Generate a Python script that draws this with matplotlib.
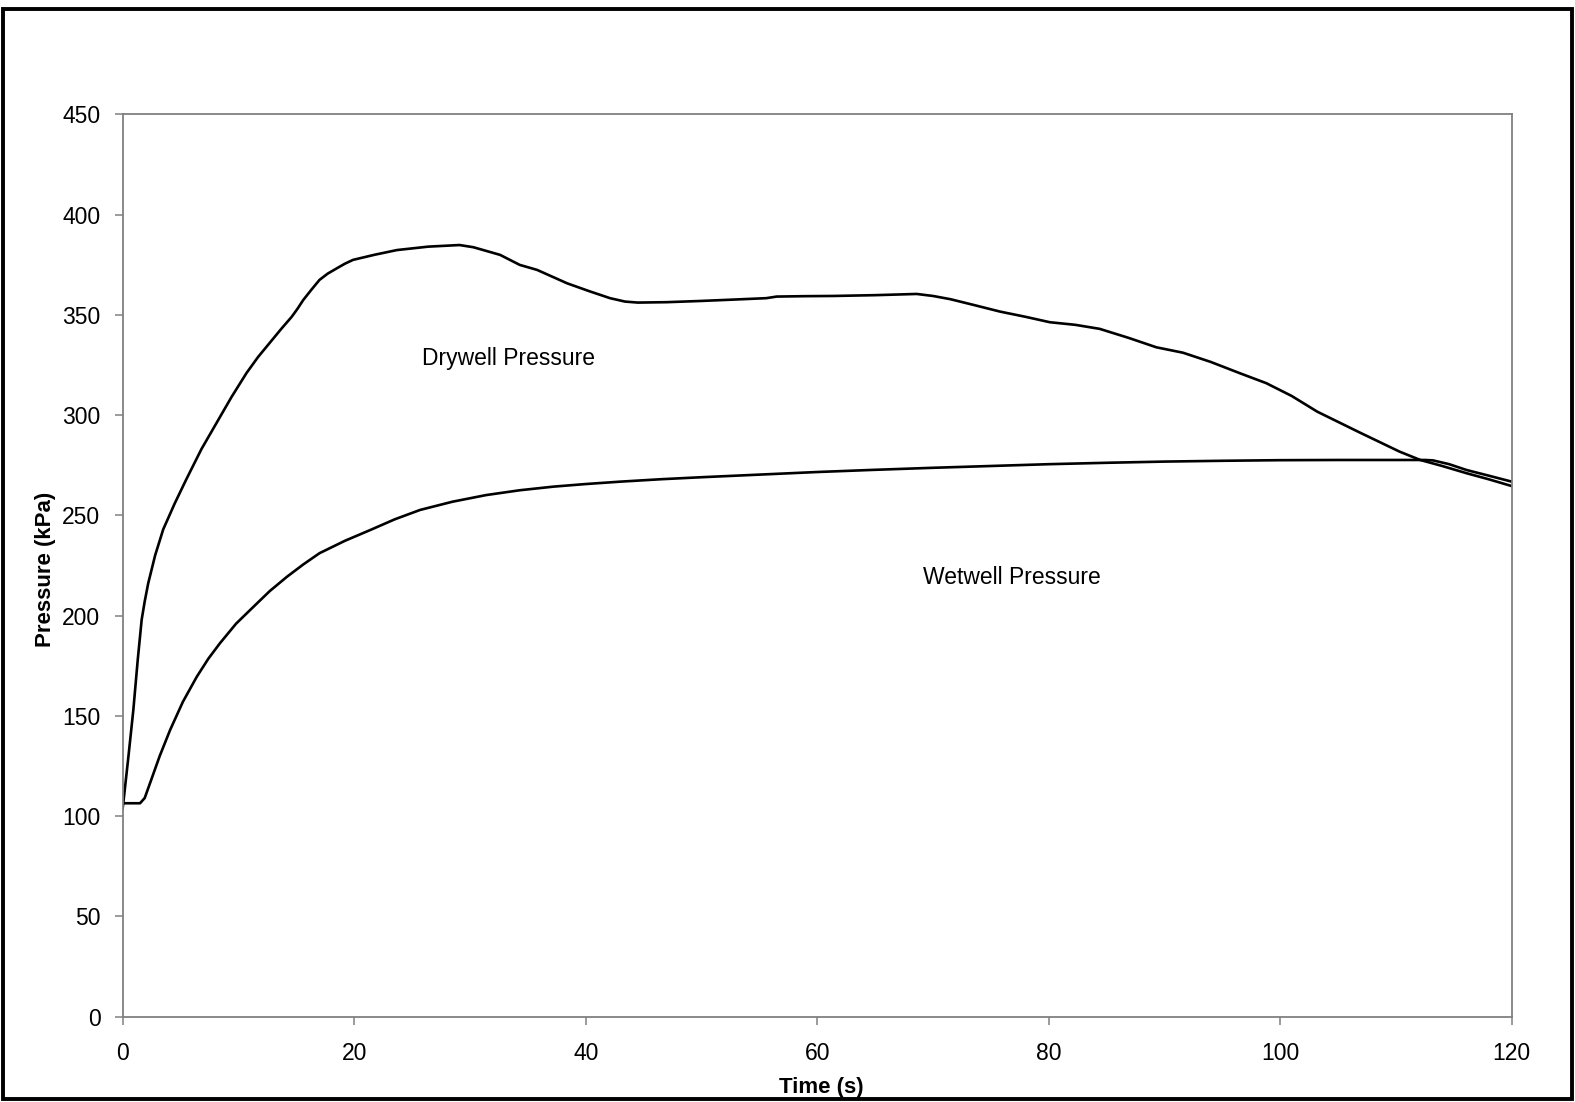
import matplotlib.pyplot as plt
from matplotlib.patches import Rectangle

plt.rcParams["font.family"] = ["Liberation Sans", "DejaVu Sans"]

# drywell pressure (time s, kPa)
dry_t = [0, 0.05, 0.5, 0.92, 1.3, 1.64, 1.9, 2.2, 2.8, 3.5, 4.5, 5.5, 6.8, 8.1,
         9.4, 10.7, 11.7, 12.7, 13.7, 14.6, 15.1, 15.6, 16.3, 17.0, 17.7, 18.5,
         19.2, 19.9, 21.8, 23.7, 26.4, 29.1, 30.3, 32.6, 34.3, 35.8, 38.4, 40.3,
         42.1, 43.4, 44.5, 47.0, 49.9, 52.8, 55.6, 56.5, 59.0, 61.4, 65.0, 68.6,
         70.0, 71.5, 73.6, 75.8, 78.0, 80.1, 82.3, 84.4, 86.9, 89.3, 91.6, 94.0,
         96.5, 98.8, 101.0, 103.2, 106.8, 110.3, 112.1, 114.0, 116.1, 118.0, 120.0]
dry_p = [104, 106.4, 130, 153, 178, 198, 207, 216, 230, 243, 256, 268, 283, 296,
         309, 321, 329, 336, 343, 349, 353, 357.4, 362.5, 367.4, 370.5, 373.2,
         375.5, 377.4, 380, 382.3, 384, 384.8, 383.7, 379.9, 374.9, 372.4, 365.7,
         361.8, 358.3, 356.6, 356.1, 356.3, 356.9, 357.6, 358.3, 359.1, 359.3,
         359.4, 359.8, 360.4, 359.4, 357.8, 354.8, 351.6, 349.0, 346.3, 345.0,
         343, 338.5, 333.8, 331.1, 326.5, 320.9, 315.9, 309.5, 301.7, 291.5,
         281.8, 277.6, 274.6, 271, 268, 264.6]

# wetwell pressure (time s, kPa)
wet_t = [0, 1.0, 1.5, 1.9, 2.36, 3.2, 4.1, 5.2, 6.4, 7.4, 8.4, 9.8, 11.3, 12.7,
         14.2, 15.6, 17.0, 19.2, 21.4, 23.5, 25.7, 28.5, 31.4, 34.3, 37.2, 40.0,
         43.0, 46.5, 50.0, 55.0, 60.0, 65.0, 70.0, 75.0, 80.0, 85.0, 90.0, 95.0,
         100.0, 105.0, 110.0, 112.5, 113.2, 114.6, 116.1, 118.0, 120.0]
wet_p = [106.4, 106.4, 106.4, 109, 116.4, 130, 143, 157, 169.5, 178.5, 186.2,
         196, 204.4, 212.2, 219.4, 225.5, 231.1, 237.3, 242.7, 248, 252.7, 256.8,
         260.1, 262.5, 264.3, 265.6, 266.8, 268, 269, 270.3, 271.6, 272.7, 273.7,
         274.6, 275.5, 276.2, 276.8, 277.2, 277.5, 277.6, 277.6, 277.6, 277.4,
         275.5, 272.6, 269.8, 266.8]

W, H = 1575, 1102
fig = plt.figure(figsize=(W / 100, H / 100), dpi=100)
ax = fig.add_axes([122.7 / W, 1 - 1016.6 / H, (1511.7 - 122.7) / W, (1016.6 - 114.3) / H])

ax.plot(dry_t, dry_p, color="black", lw=1.9, solid_joinstyle="round")
ax.plot(wet_t, wet_p, color="black", lw=1.9, solid_joinstyle="round")

ax.set_xlim(0, 120)
ax.set_ylim(0, 450)
ax.set_xticks(range(0, 121, 20))
ax.set_yticks(range(0, 451, 50))
for s in ax.spines.values():
    s.set_color("#808080")
    s.set_linewidth(1.3)
ax.tick_params(direction="out", length=6, width=1.1, color="#808080", labelsize=16.5)
ax.tick_params(axis="y", pad=10)
ax.tick_params(axis="x", pad=12)

ax.text(33.3, 328, "Drywell Pressure", fontsize=16.5, ha="center", va="center")
ax.text(76.8, 219, "Wetwell Pressure", fontsize=16.5, ha="center", va="center")

fig.text(821 / W, 1 - 1087 / H, "Time (s)", fontsize=16, fontweight="bold",
         ha="center", va="center")
fig.text(46 / W, 1 - 569 / H, "Pressure (kPa)", fontsize=16, fontweight="bold",
         ha="center", va="center", rotation=90)

# outer frame
fig.patches.append(Rectangle((2.5 / W, 1 - 1099 / H), (1572 - 2.5) / W, (1099 - 8.5) / H,
                             transform=fig.transFigure, fill=False,
                             edgecolor="black", linewidth=2.8))

fig.savefig("out.png", dpi=100)
